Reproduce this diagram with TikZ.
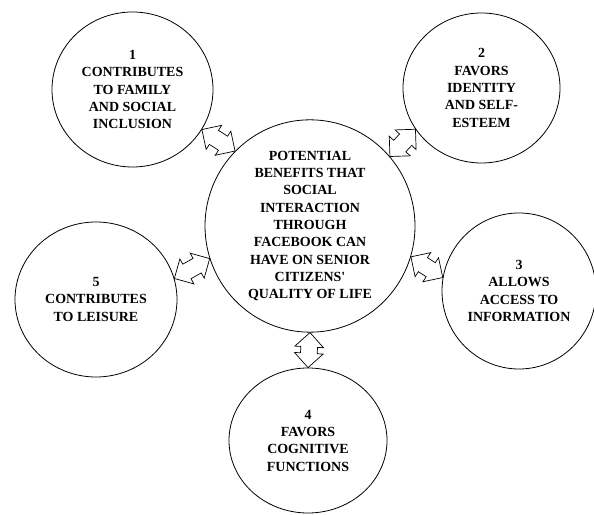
\documentclass[tikz,border=0pt]{standalone}
\usepackage{fontspec}
\setmainfont{Liberation Serif}
\usetikzlibrary{shapes.geometric,shapes.arrows,calc}
\newcommand{\linkarrow}[2]{%
  \path let \p1=(#1), \p2=(#2),
    \n1={atan2(\y2-\y1,\x2-\x1)},
    \n2={veclen(\x2-\x1,\y2-\y1)} in
    node[twoway, rotate=\n1, minimum height=\n2] at ($(\p1)!0.5!(\p2)$) {};}
\begin{document}
\begin{tikzpicture}[x=1bp,y=1bp,
  bubble/.style={ellipse, draw=black, line width=0.8bp, inner sep=0pt,
    align=center, text=black,
    font=\bfseries\fontsize{14}{17.4}\selectfont},
  twoway/.style={double arrow, draw=black, fill=white, line width=0.7bp,
    inner xsep=0pt, inner ysep=8bp, double arrow head extend=6bp}]
\useasboundingbox (0,0) rectangle (594,515);
\node[bubble, minimum width=210bp, minimum height=208bp] (m) at (310,289)
  {POTENTIAL\\BENEFITS THAT\\SOCIAL\\INTERACTION\\THROUGH\\FACEBOOK CAN\\HAVE ON SENIOR\\CITIZENS\textquotesingle\\QUALITY OF LIFE};
\node[bubble, minimum width=161bp, minimum height=155bp] (c1) at (132.5,425.5)
  {1\\CONTRIBUTES\\TO FAMILY\\AND SOCIAL\\INCLUSION};
\node[bubble, minimum width=157bp, minimum height=150bp] (c2) at (481.5,427)
  {2\\FAVORS\\IDENTITY\\AND SELF-\\ESTEEM};
\node[bubble, minimum width=154bp, minimum height=156bp] (c3) at (519,224)
  {3\\ALLOWS\\ACCESS TO\\INFORMATION};
\node[bubble, minimum width=158bp, minimum height=145bp] (c4) at (308,74.5)
  {4\\FAVORS\\COGNITIVE\\FUNCTIONS};
\node[bubble, minimum width=162bp, minimum height=155bp] (c5) at (96,215.5)
  {5\\CONTRIBUTES\\TO LEISURE};
\linkarrow{c1.-30}{m.135}
\linkarrow{m.41.5}{c2.-148}
\linkarrow{m.-17}{c3.170}
\linkarrow{m.-90}{c4.90}
\linkarrow{c5.15}{m.-162.5}
\end{tikzpicture}
\end{document}
